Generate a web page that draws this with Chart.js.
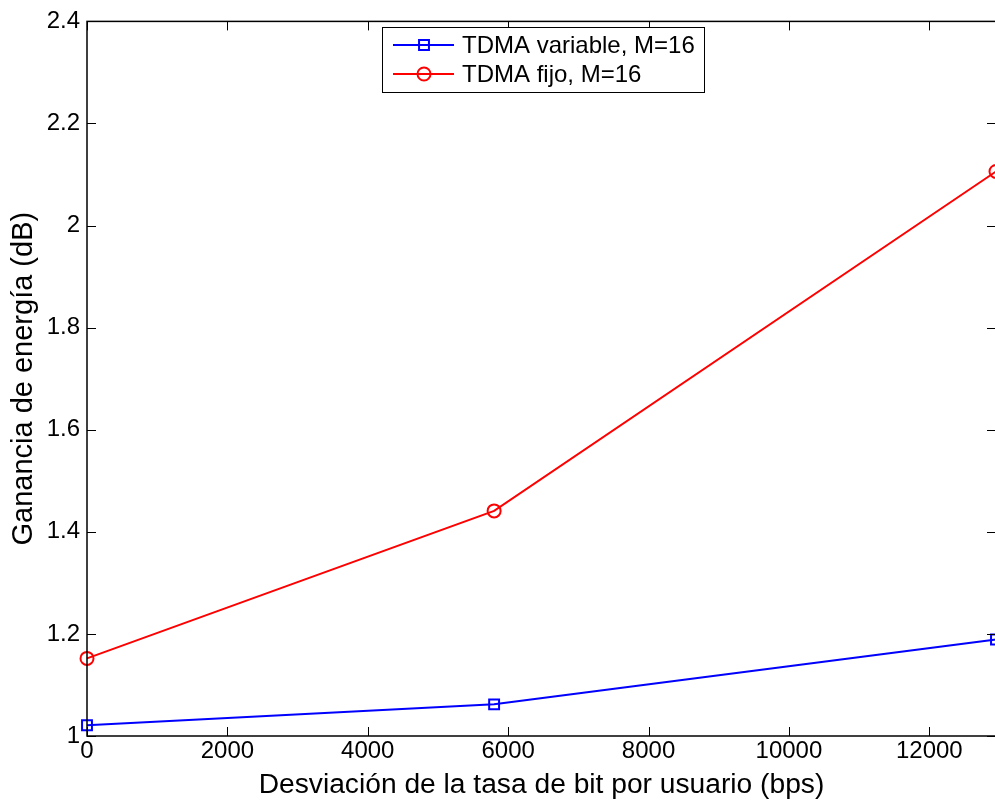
<!DOCTYPE html>
<html>
<head>
<meta charset="utf-8">
<script src="https://cdn.jsdelivr.net/npm/chart.js@4.4.1/dist/chart.umd.min.js"></script>
<style>
  html, body { margin: 0; padding: 0; background: #fff; overflow: hidden; }
  #wrap { width: 995px; height: 805px; overflow: hidden; }
</style>
</head>
<body>
<div id="wrap"><canvas id="gain" width="1005" height="805"></canvas></div>
<script>
// Desviación de la tasa (bps) vs ganancia de energía (dB)
const rateDev = [0, 5800, 12950];
const tdmaVariable = [1.021, 1.062, 1.189];
const tdmaFijo = [1.152, 1.441, 2.106];
const seriesNames = ['TDMA variable, M=16', 'TDMA fijo, M=16'];
const xTicks = [0, 2000, 4000, 6000, 8000, 10000, 12000];
const yTicks = [1, 1.2, 1.4, 1.6, 1.8, 2, 2.2, 2.4];

const FONT = 'Liberation Sans, Arial, Helvetica, sans-serif';

const toPoints = ys => ys.map((y, i) => ({ x: rateDev[i], y }));

// box + inward ticks on all four sides, matlab style
const axesFrame = {
    id: 'axesFrame',
    afterDatasetsDraw(chart) {
        const { ctx, chartArea: a, scales: { x, y } } = chart;
        const len = 9;
        ctx.save();
        ctx.strokeStyle = '#000';
        ctx.lineWidth = 1;
        ctx.beginPath();
        xTicks.forEach(v => {
            const px = Math.round(x.getPixelForValue(v)) + 0.5;
            ctx.moveTo(px, a.bottom); ctx.lineTo(px, a.bottom - len);
            ctx.moveTo(px, a.top); ctx.lineTo(px, a.top + len);
        });
        yTicks.forEach(v => {
            const py = Math.round(y.getPixelForValue(v)) + 0.5;
            ctx.moveTo(a.left, py); ctx.lineTo(a.left + len, py);
            ctx.moveTo(a.right, py); ctx.lineTo(a.right - len, py);
        });
        ctx.stroke();
        ctx.lineWidth = 1.5;
        ctx.strokeRect(a.left, a.top, a.right - a.left, a.bottom - a.top);
        ctx.restore();
    }
};

// legend box with line + marker samples
const lineLegend = {
    id: 'lineLegend',
    afterDraw(chart) {
        const { ctx } = chart;
        const box = { x: 382, y: 27, w: 322, h: 65 };
        ctx.save();
        ctx.fillStyle = '#fff';
        ctx.fillRect(box.x, box.y, box.w, box.h);
        ctx.strokeStyle = '#000';
        ctx.lineWidth = 1;
        ctx.strokeRect(box.x + 0.5, box.y + 0.5, box.w, box.h);
        ctx.font = '24px ' + FONT;
        ctx.textBaseline = 'middle';
        chart.data.datasets.forEach((ds, i) => {
            const yy = box.y + 18 + i * 29;
            ctx.strokeStyle = ds.borderColor;
            ctx.lineWidth = 2;
            ctx.beginPath();
            ctx.moveTo(box.x + 11, yy);
            ctx.lineTo(box.x + 72, yy);
            ctx.stroke();
            ctx.fillStyle = 'rgba(0,0,0,0)';
            ctx.lineWidth = ds.pointBorderWidth;
            Chart.helpers.drawPoint(ctx, {
                pointStyle: ds.pointStyle,
                radius: ds.pointRadius,
                rotation: 0,
                borderWidth: ds.pointBorderWidth
            }, box.x + 42, yy);
            ctx.fillStyle = '#000';
            ctx.fillText(ds.label, box.x + 80, yy + 1);
        });
        ctx.restore();
    }
};

new Chart(document.getElementById('gain'), {
    type: 'line',
    data: {
        datasets: [{
            label: seriesNames[0],
            data: toPoints(tdmaVariable),
            borderColor: '#0000ff',
            borderWidth: 2,
            pointStyle: 'rect',
            pointRadius: 7,
            pointBorderWidth: 2,
            pointBackgroundColor: 'rgba(0,0,0,0)',
            pointBorderColor: '#0000ff',
            tension: 0
        }, {
            label: seriesNames[1],
            data: toPoints(tdmaFijo),
            borderColor: '#ff0000',
            borderWidth: 2,
            pointStyle: 'circle',
            pointRadius: 6.5,
            pointBorderWidth: 2,
            pointBackgroundColor: 'rgba(0,0,0,0)',
            pointBorderColor: '#ff0000',
            tension: 0
        }]
    },
    options: {
        responsive: false,
        animation: false,
        clip: false,
        layout: { padding: { left: 0, top: 17, right: 4, bottom: 0 } },
        scales: {
            x: {
                type: 'linear',
                min: 0,
                max: 12950,
                afterBuildTicks: s => { s.ticks = xTicks.map(v => ({ value: v })); },
                afterFit: s => { s.height = 69; },
                grid: { display: false, drawTicks: false },
                border: { display: false },
                ticks: {
                    color: '#000',
                    padding: 1,
                    maxRotation: 0,
                    font: { family: FONT, size: 24 },
                    callback: v => String(v)
                },
                title: {
                    display: true,
                    text: 'Desviación de la tasa de bit por usuario (bps)',
                    color: '#000',
                    font: { family: FONT, size: 28.2 },
                    padding: { top: 0, bottom: 3 }
                }
            },
            y: {
                min: 1,
                max: 2.4,
                afterBuildTicks: s => { s.ticks = yTicks.map(v => ({ value: v })); },
                afterFit: s => { s.width = 87; },
                grid: { display: false, drawTicks: false },
                border: { display: false },
                ticks: {
                    color: '#000',
                    padding: 7,
                    font: { family: FONT, size: 24 },
                    callback: v => String(v)
                },
                title: {
                    display: true,
                    text: 'Ganancia de energía (dB)',
                    color: '#000',
                    font: { family: FONT, size: 29 },
                    padding: { top: 7, bottom: 0 }
                }
            }
        },
        plugins: {
            legend: { display: false },
            tooltip: { enabled: false }
        }
    },
    plugins: [axesFrame, lineLegend]
});
</script>
</body>
</html>
